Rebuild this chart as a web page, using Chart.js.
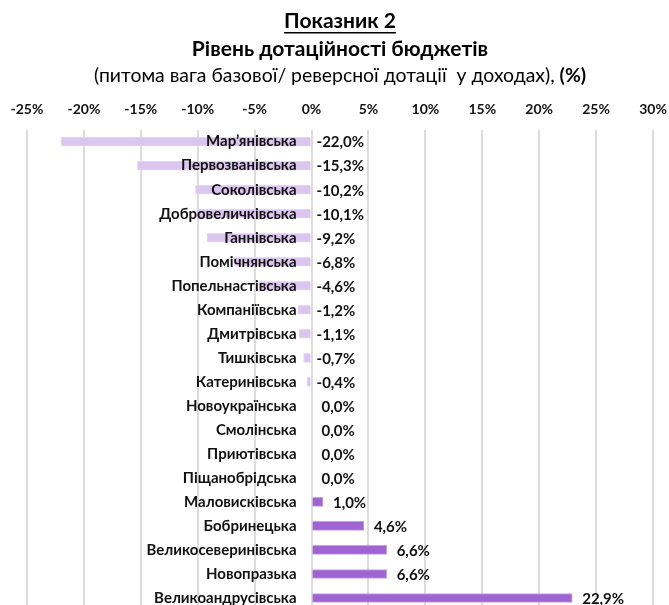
<!DOCTYPE html>
<html>
<head>
<meta charset="utf-8">
<script src="https://cdn.jsdelivr.net/npm/chart.js@4/dist/chart.umd.min.js"></script>
<style>
html,body{margin:0;padding:0;background:#fff;overflow:hidden;}
canvas{display:block;}
</style>
</head>
<body>
<canvas id="c" width="669" height="612"></canvas>
<script>
const TITLE_LINES = ['Показник 2', 'Рівень дотаційності бюджетів'];
const SUBTITLE_MAIN = '(питома вага базової/ реверсної дотації  у доходах), ';
const SUBTITLE_BOLD = '(%)';
const categories = [
  'Мар’янівська','Первозванівська','Соколівська','Добровеличківська','Ганнівська',
  'Помічнянська','Попельнастівська','Компаніївська','Дмитрівська','Тишківська',
  'Катеринівська','Новоукраїнська','Смолінська','Приютівська','Піщанобрідська',
  'Маловисківська','Бобринецька','Великосеверинівська','Новопразька','Великоандрусівська'
];
const values = [
  -22.0,-15.3,-10.2,-10.1,-9.2,
  -6.8,-4.6,-1.2,-1.1,-0.7,
  -0.4,0.0,0.0,0.0,0.0,
  1.0,4.6,6.6,6.6,22.9
];
const xTicks = [-25,-20,-15,-10,-5,0,5,10,15,20,25,30];

const FONT = 'Lato, "Open Sans", sans-serif';
const NEG_COLOR = '#dbc5ef';
const POS_COLOR = '#a064d2';
const SUB_SIZE = 19.4;

const labelPlugin = {
  id: 'labels',
  afterDatasetsDraw(chart) {
    const ctx = chart.ctx;
    const xs = chart.scales.x, ys = chart.scales.y;
    const x0 = xs.getPixelForValue(0);
    ctx.save();
    ctx.textBaseline = 'middle';
    ctx.fillStyle = '#111';
    categories.forEach((c, i) => {
      const y = ys.getPixelForValue(i);
      ctx.font = 'bold 15px ' + FONT;
      ctx.textAlign = 'right';
      ctx.fillText(c, x0 - 15, y);
      const v = values[i];
      const txt = v.toFixed(1).replace('.', ',') + '%';
      ctx.textAlign = 'left';
      const xe = v < 0 ? x0 + 5 : xs.getPixelForValue(v) + 10;
      ctx.fillText(txt, xe, y + 1);
    });
    ctx.restore();
  },
  afterDraw(chart) {
    const ctx = chart.ctx;
    ctx.save();
    const tb = chart.titleBlock;
    if (tb) {
      ctx.font = 'bold 21px ' + FONT;
      const w = ctx.measureText(TITLE_LINES[0]).width;
      const cx = (tb.left + tb.right) / 2;
      const y = tb.top + tb.options.padding.top + 21 * 1.3 / 2 + 11;
      ctx.strokeStyle = '#000';
      ctx.lineWidth = 1.5;
      ctx.beginPath();
      ctx.moveTo(cx - w / 2, y);
      ctx.lineTo(cx + w / 2, y);
      ctx.stroke();
    }
    const sb = chart.boxes.find(b => b.options && b.options.text === SUBTITLE_MAIN + SUBTITLE_BOLD);
    if (sb) {
      const cx = (sb.left + sb.right) / 2;
      const cy = sb.top + sb.options.padding.top + SUB_SIZE * 1.3 / 2;
      ctx.textBaseline = 'middle';
      ctx.textAlign = 'left';
      ctx.font = SUB_SIZE + 'px ' + FONT;
      const w1 = ctx.measureText(SUBTITLE_MAIN).width;
      ctx.font = 'bold ' + SUB_SIZE + 'px ' + FONT;
      const w2 = ctx.measureText(SUBTITLE_BOLD).width;
      const sx = cx - (w1 + w2) / 2;
      ctx.fillStyle = '#000';
      ctx.font = SUB_SIZE + 'px ' + FONT;
      ctx.fillText(SUBTITLE_MAIN, sx, cy);
      ctx.font = 'bold ' + SUB_SIZE + 'px ' + FONT;
      ctx.fillText(SUBTITLE_BOLD, sx + w1, cy);
    }
    ctx.restore();
  }
};

new Chart(document.getElementById('c'), {
  type: 'bar',
  data: {
    labels: categories,
    datasets: [{
      data: values,
      backgroundColor: values.map(v => v < 0 ? NEG_COLOR : POS_COLOR),
      borderColor: values.map(v => v < 0 ? '#e8daf4' : '#c4a0e6'),
      borderWidth: 1,
      barThickness: 9
    }]
  },
  options: {
    indexAxis: 'y',
    responsive: false,
    animation: false,
    layout: { padding: { left: 27, right: 16, top: 0, bottom: 2 } },
    plugins: {
      legend: { display: false },
      tooltip: { enabled: false },
      title: {
        display: true,
        text: TITLE_LINES,
        color: '#000',
        font: { family: FONT, size: 21, weight: 'bold', lineHeight: 1.3 },
        padding: { top: 8, bottom: 0 }
      },
      subtitle: {
        display: true,
        text: SUBTITLE_MAIN + SUBTITLE_BOLD,
        color: 'rgba(0,0,0,0)',
        font: { family: FONT, size: SUB_SIZE, lineHeight: 1.3 },
        padding: { top: 1, bottom: 0 }
      }
    },
    scales: {
      x: {
        position: 'top',
        min: -25, max: 30,
        afterBuildTicks(scale) { scale.ticks = xTicks.map(v => ({ value: v })); },
        afterFit(scale) { scale.paddingLeft = 0; scale.paddingRight = 0; },
        ticks: {
          callback: v => v + '%',
          color: '#111',
          font: { family: FONT, size: 14, weight: 'bold' },
          padding: 12,
          maxRotation: 0,
          autoSkip: false
        },
        grid: { color: '#dcdcdc', lineWidth: 2, drawTicks: false },
        border: { display: false }
      },
      y: {
        display: false,
        grid: { display: false }
      }
    }
  },
  plugins: [labelPlugin]
});
</script>
</body>
</html>
